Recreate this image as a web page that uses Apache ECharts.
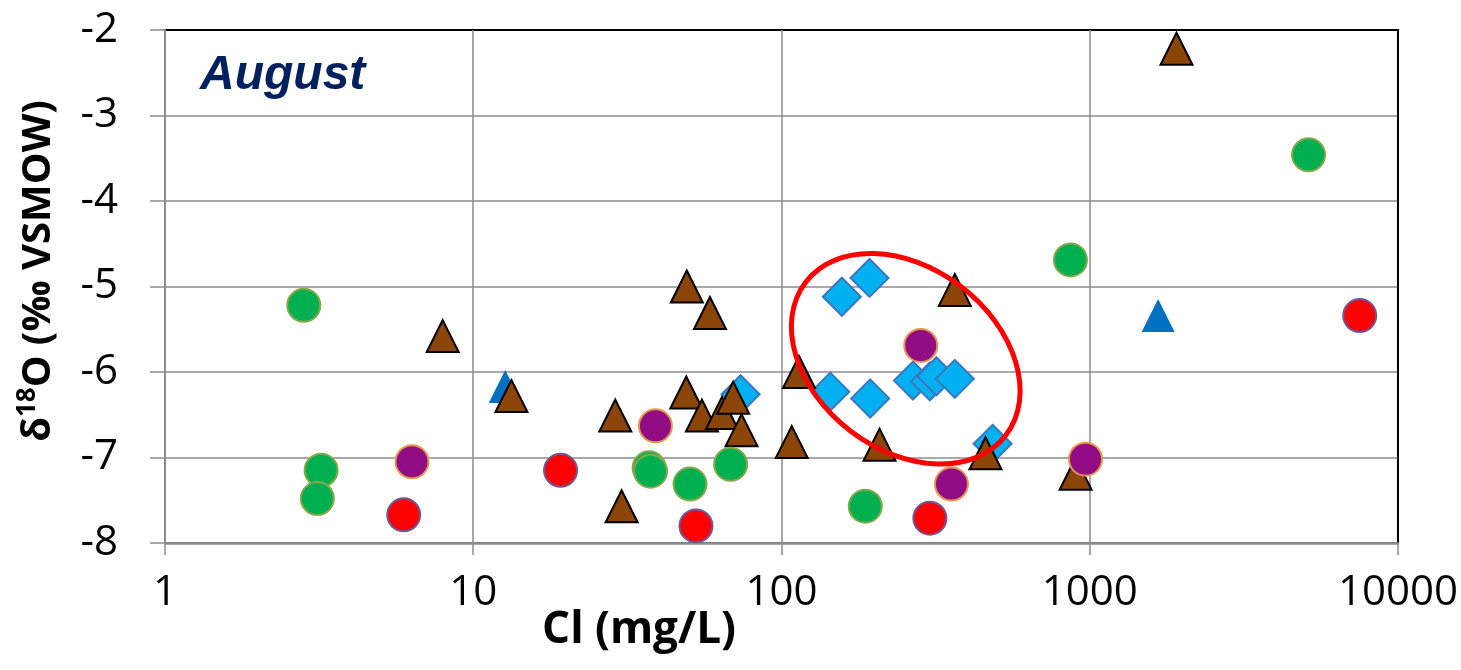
<!DOCTYPE html>
<html>
<head>
<meta charset="utf-8">
<script src="https://cdn.jsdelivr.net/npm/echarts@6/dist/echarts.min.js"></script>
<style>
html,body{margin:0;padding:0;background:#fff;}
#main{width:1461px;height:670px;}
</style>
</head>
<body>
<div id="main"></div>
<script>
// ---- Data (Cl mg/L, δ18O ‰) ----
const greenCircles = [[2.82,-5.22],[3.21,-7.15],[3.12,-7.48],[37.2,-7.12],[37.6,-7.16],[50.5,-7.31],[68.4,-7.08],[187,-7.57],[866,-4.69],[5128,-3.46]];
const redCircles = [[5.95,-7.67],[19.2,-7.15],[52.8,-7.80],[303,-7.71],[7516,-5.34]];
const purpleCircles = [[6.33,-7.05],[39.0,-6.63],[283,-5.69],[356,-7.31],[969,-7.02]];
const brownTriangles = [[7.96,-5.58],[13.3,-6.28],[28.9,-6.51],[30.3,-7.57],[49.3,-5.00],[58.6,-5.31],[49.1,-6.24],[55.2,-6.51],[64.1,-6.48],[69.7,-6.30],[74.2,-6.68],[108,-6.82],[114,-6.00],[208,-6.85],[365,-5.04],[459,-6.95],[900,-7.19],[1912,-2.22]];
const blueTriangles = [[12.7,-6.17],[1667,-5.34]];
const blueDiamonds = [[73.7,-6.26],[157,-5.12],[193,-4.90],[144,-6.23],[194,-6.31],[267,-6.10],[303,-6.11],[318,-6.05],[365,-6.08],[484,-6.84]];
const xTickValues = [1,10,100,1000,10000];
const xTickLabels = ['1','10','100','1000','10000'];
const yTickValues = [-8,-7,-6,-5,-4,-3,-2];
const yTickLabels = ['-8','-7','-6','-5','-4','-3','-2'];
const ellipseCenter = [253,-5.845];
const panelLabel = 'August';
const xTitle = 'Cl (mg/L)';

const chart = echarts.init(document.getElementById('main'), null, {renderer:'canvas'});
const GRID = '#8C8C8C';
const tickFont = '"Open Sans", "Noto Sans", sans-serif';

function labelFor(values, labels){
  return function(v){
    for (let i=0;i<values.length;i++){ if (Math.abs(values[i]-v) < 1e-6*Math.max(1,Math.abs(v))) return labels[i]; }
    return '';
  };
}

const option = {
  animation:false,
  backgroundColor:'#fff',
  grid:{left:165,right:63,top:30,bottom:127,show:true,borderColor:'#000',borderWidth:2,backgroundColor:'transparent'},
  xAxis:{
    type:'log', logBase:10, min:1, max:10000,
    axisLine:{show:true,onZero:false,lineStyle:{color:GRID,width:2.5}},
    axisTick:{show:true,length:12,lineStyle:{color:GRID,width:1.5}},
    axisLabel:{fontSize:42,fontFamily:tickFont,color:'#000',margin:29,formatter:labelFor(xTickValues,xTickLabels)},
    splitLine:{show:true,lineStyle:{color:[GRID,GRID,GRID,GRID,'#000'],width:1.5}},
    minorTick:{show:false}
  },
  yAxis:{
    type:'value', min:-8, max:-2, interval:1,
    axisLine:{show:true,onZero:false,lineStyle:{color:GRID,width:2}},
    axisTick:{show:true,length:15,lineStyle:{color:GRID,width:1.5}},
    axisLabel:{fontSize:42,fontFamily:tickFont,color:'#000',margin:47,formatter:labelFor(yTickValues,yTickLabels)},
    splitLine:{show:true,lineStyle:{color:[GRID,GRID,GRID,GRID,GRID,GRID,'#000'],width:1.5}}
  },
  series:[
    {type:'scatter',name:'diamonds',data:blueDiamonds,symbol:'diamond',symbolSize:38,z:2,
      itemStyle:{color:'#00B0F0',borderColor:'#3C78C0',borderWidth:2,opacity:1}},
    {type:'scatter',name:'blueTri',data:blueTriangles,symbol:'triangle',symbolSize:[33,33],z:3,
      itemStyle:{color:'#0070C0',opacity:1}},
    {type:'scatter',name:'brownTri',data:brownTriangles,symbol:'triangle',symbolSize:[32,32],z:4,
      itemStyle:{color:'#8B4508',borderColor:'#000',borderWidth:2,opacity:1}},
    {type:'scatter',name:'green',data:greenCircles,symbol:'circle',symbolSize:33,z:5,
      itemStyle:{color:'#00B050',borderColor:'#86A84A',borderWidth:2,opacity:1}},
    {type:'scatter',name:'red',data:redCircles,symbol:'circle',symbolSize:33,z:6,
      itemStyle:{color:'#FF0000',borderColor:'#6A5A9E',borderWidth:2,opacity:1}},
    {type:'scatter',name:'purple',data:purpleCircles,symbol:'circle',symbolSize:33,z:7,
      itemStyle:{color:'#920C84',borderColor:'#E3964C',borderWidth:2,opacity:1}}
  ]
};
chart.setOption(option);

const c = chart.convertToPixel({xAxisIndex:0,yAxisIndex:0}, ellipseCenter);
chart.setOption({
  graphic:[
    {type:'ellipse', x:c[0], y:c[1], rotation:-37.4*Math.PI/180, z:100,
      shape:{cx:0,cy:0,rx:126,ry:91}, style:{fill:'none',stroke:'#FF0000',lineWidth:5}},
    {type:'text', left:200, top:52, z:100,
      style:{text:panelLabel, font:'italic bold 48px "Liberation Sans", Arial, sans-serif', fill:'#002060'}},
    {type:'text', x:639, y:630, z:100,
      style:{text:xTitle, font:'bold 44px "Open Sans", sans-serif', fill:'#000', textAlign:'center', textVerticalAlign:'middle'}},
    {type:'text', x:36, y:271, rotation:Math.PI/2, z:100,
      style:{text:'{m|δ}{s|18}{m|O (‰ VSMOW)}', textAlign:'center', textVerticalAlign:'middle', fill:'#000',
        rich:{
          m:{font:'bold 40px "Open Sans", sans-serif', fill:'#000', lineHeight:46, verticalAlign:'bottom'},
          s:{font:'bold 26px "Open Sans", sans-serif', fill:'#000', lineHeight:46, verticalAlign:'top', padding:[2,0,0,0]}
        }}}
  ]
});
</script>
</body>
</html>
